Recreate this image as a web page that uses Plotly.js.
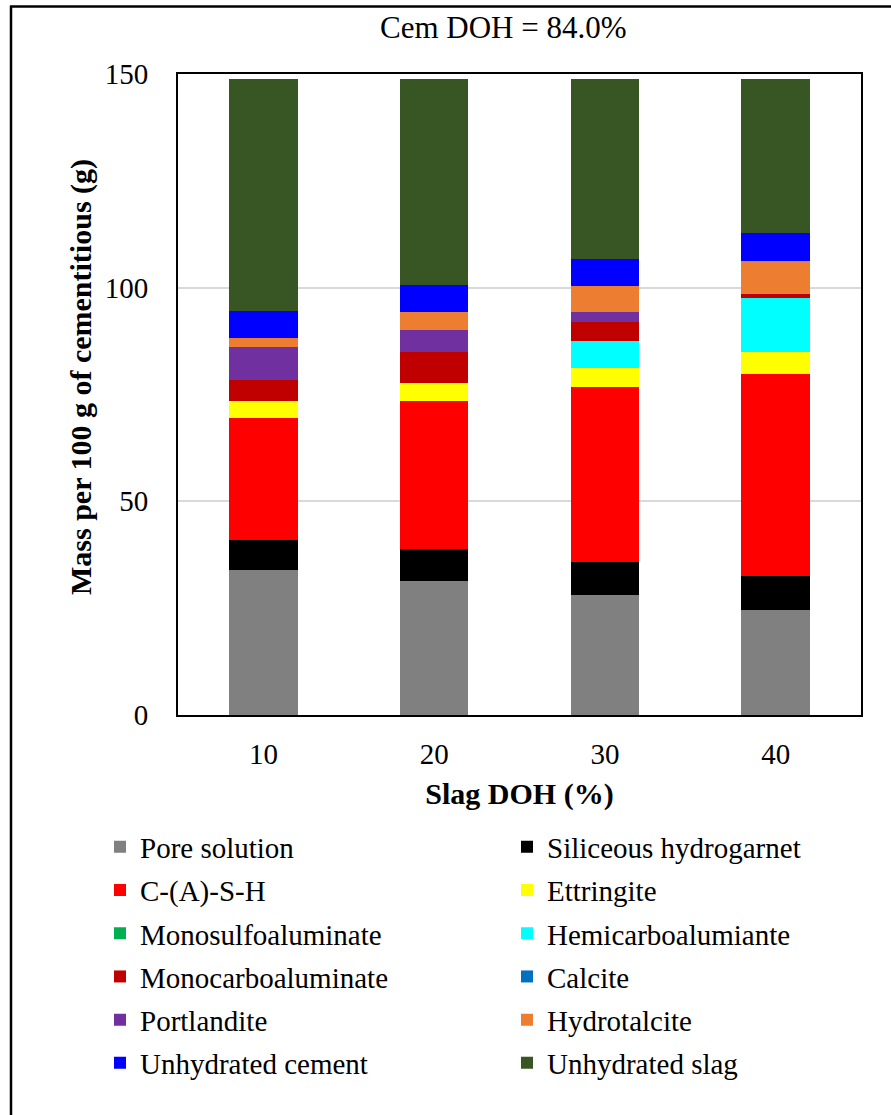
<!DOCTYPE html>
<html>
<head>
<meta charset="utf-8">
<script src="https://cdn.plot.ly/plotly-3.0.1.min.js"></script>
<style>
html,body{margin:0;padding:0;background:#fff;}
#chart{width:891px;height:1115px;}
</style>
</head>
<body>
<div id="chart"></div>
<script>
// Categories (Slag DOH %)
const categories = ['10', '20', '30', '40'];

// Series values (g per 100 g of cementitious), bottom to top
const poreSolution        = [34.0, 31.4, 28.0, 24.6];
const siliceousHydrogarnet= [6.9, 7.5, 7.9, 7.9];
const cash                = [28.6, 34.6, 40.9, 47.4];
const ettringite          = [4.0, 4.2, 4.5, 5.0];
const monosulfoaluminate  = [0, 0, 0, 0];
const hemicarboaluminate  = [0, 0, 6.3, 12.7];
const monocarboaluminate  = [4.8, 7.2, 4.3, 1.0];
const calcite             = [0, 0, 0, 0];
const portlandite         = [7.8, 5.2, 2.4, 0];
const hydrotalcite        = [2.1, 4.2, 6.0, 7.7];
const unhydratedCement    = [6.4, 6.3, 6.4, 6.4];
const unhydratedSlag      = [54.2, 48.2, 42.1, 36.1];

const seriesNames = ['Pore solution', 'Siliceous hydrogarnet', 'C-(A)-S-H', 'Ettringite',
  'Monosulfoaluminate', 'Hemicarboalumiante', 'Monocarboaluminate', 'Calcite',
  'Portlandite', 'Hydrotalcite', 'Unhydrated cement', 'Unhydrated slag'];
const seriesValues = [poreSolution, siliceousHydrogarnet, cash, ettringite,
  monosulfoaluminate, hemicarboaluminate, monocarboaluminate, calcite,
  portlandite, hydrotalcite, unhydratedCement, unhydratedSlag];
const seriesColors = ['#808080', '#000000', '#FF0000', '#FFFF00', '#00B050', '#00FFFF',
  '#C00000', '#0070C0', '#7030A0', '#ED7D31', '#0000FF', '#375623'];

const yTicks = [0, 50, 100, 150];
const titleText = 'Cem DOH = 84.0%';
const xTitle = 'Slag DOH (%)';
const yTitle = 'Mass per 100 g of cementitious (g)';

const W = 891, H = 1115;
const FONT = 'Liberation Serif, Times New Roman, serif';
const M = {l: 178, r: 30, t: 74, b: 400, autoexpand: false};
const pw = W - M.l - M.r, ph = H - M.t - M.b;
const px2x = p => (p - M.l) / pw;
const py2y = p => (H - M.b - p) / ph;

// legend grid: 2 columns, 6 rows
const legCols = [100, 507];
const legRow0 = 847, legRowStep = 43.2;

const traces = seriesNames.map((name, i) => ({
  type: 'bar',
  name: name,
  x: categories,
  y: seriesValues[i],
  marker: {color: seriesColors[i], line: {width: 0}},
  legend: i === 0 ? 'legend' : 'legend' + (i + 1),
  showlegend: true,
  hoverinfo: 'name+y'
}));

const layout = {
  width: W, height: H,
  margin: M,
  showlegend: true,
  paper_bgcolor: '#ffffff',
  plot_bgcolor: '#ffffff',
  barmode: 'stack',
  bargap: 0.6,
  font: {family: FONT, color: '#000000', size: 29},
  xaxis: {
    type: 'category',
    range: [-0.5, 3.5],
    showgrid: false,
    showline: true, linecolor: '#000000', linewidth: 2, mirror: true,
    ticks: '', ticklabelstandoff: 12,
    tickfont: {family: FONT, size: 29, color: '#000000'},
    title: {text: '<b>' + xTitle + '</b>', font: {family: FONT, size: 30, color: '#000000'}, standoff: 14},
    automargin: false,
    fixedrange: true
  },
  yaxis: {
    range: [0, 150],
    tickvals: yTicks,
    ticktext: yTicks.map(String),
    showgrid: true, gridcolor: '#D9D9D9', gridwidth: 2,
    zeroline: false,
    showline: true, linecolor: '#000000', linewidth: 2, mirror: true,
    ticks: '', ticklabelstandoff: 22,
    tickfont: {family: FONT, size: 29, color: '#000000'},
    automargin: false,
    fixedrange: true
  },
  annotations: [{
    text: titleText,
    xref: 'paper', yref: 'paper',
    x: px2x(503), y: py2y(27),
    xanchor: 'center', yanchor: 'middle',
    showarrow: false,
    font: {family: FONT, size: 31, color: '#000000'}
  }, {
    text: '<b>' + yTitle + '</b>',
    xref: 'paper', yref: 'paper',
    x: px2x(81), y: py2y(377),
    xanchor: 'center', yanchor: 'middle',
    textangle: -90,
    showarrow: false,
    font: {family: FONT, size: 30, color: '#000000'}
  }],
  shapes: [
    {type: 'line', xref: 'paper', yref: 'paper', x0: px2x(11), x1: px2x(11), y0: py2y(6), y1: py2y(1115), line: {color: '#000000', width: 2.5}},
    {type: 'line', xref: 'paper', yref: 'paper', x0: px2x(10), x1: px2x(891), y0: py2y(6.5), y1: py2y(6.5), line: {color: '#000000', width: 2.5}}
  ]
};

seriesNames.forEach((n, i) => {
  const key = i === 0 ? 'legend' : 'legend' + (i + 1);
  const col = i % 2, row = Math.floor(i / 2);
  layout[key] = {
    visible: true,
    xref: 'container', yref: 'container',
    x: legCols[col] / W,
    y: 1 - (legRow0 + row * legRowStep) / H,
    xanchor: 'left', yanchor: 'middle',
    orientation: 'v',
    bgcolor: 'rgba(0,0,0,0)',
    borderwidth: 0,
    font: {family: FONT, size: 29, color: '#000000'},
    itemclick: false, itemdoubleclick: false
  };
});

Plotly.newPlot('chart', traces, layout, {displayModeBar: false});
</script>
</body>
</html>
